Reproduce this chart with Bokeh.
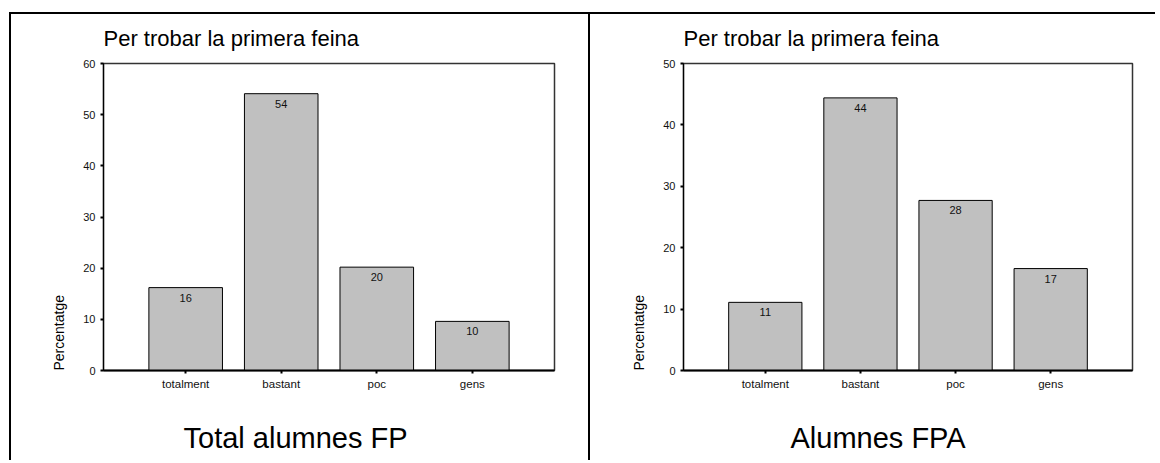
from bokeh.plotting import figure
from bokeh.models import FactorRange, Range1d, FixedTicker, Title, ColumnDataSource
from bokeh.layouts import row
from bokeh.embed import file_html
from bokeh.resources import INLINE
from bokeh.core.properties import value

categories = ["totalment", "bastant", "poc", "gens"]
fp_values = [16.2, 54.1, 20.2, 9.6]
fpa_values = [11.1, 44.4, 27.7, 16.6]
fp_yticks = [0, 10, 20, 30, 40, 50, 60]
fpa_yticks = [0, 10, 20, 30, 40, 50]
title_text = "Per trobar la primera feina"
y_label = "Percentatge"
fp_caption = "Total alumnes FP"
fpa_caption = "Alumnes FPA"

FONT = "Liberation Sans"
H = 448
TOP = 49
FRAME_H = 307


def make_panel(vals, yticks, caption, width, left, frame_w, margin, cap_offset):
    right = width - left - frame_w
    bottom = H - TOP - FRAME_H
    p = figure(x_range=FactorRange(factors=categories, range_padding=0.18),
               y_range=Range1d(yticks[0], yticks[-1]),
               width=width, height=H,
               min_border_left=left, min_border_right=right,
               min_border_top=TOP, min_border_bottom=bottom,
               output_backend="svg", toolbar_location=None, tools="",
               title=title_text)
    p.margin = margin
    p.styles = {"border-top": "2px solid black", "border-left": "2px solid black"}
    p.xgrid.visible = False
    p.ygrid.visible = False
    p.outline_line_color = "#333333"
    p.outline_line_width = 1.5
    p.background_fill_color = "white"
    p.border_fill_color = "white"

    p.title.align = "left"
    p.title.vertical_align = "top"
    p.title.standoff = 22
    p.title.text_font = FONT
    p.title.text_font_size = "22px"
    p.title.text_font_style = "normal"
    p.title.text_color = "black"

    src = ColumnDataSource(dict(cat=categories, val=vals,
                                lab=[f"{v:.0f}" for v in vals]))
    p.vbar(x="cat", top="val", width=0.77, bottom=0, source=src,
           fill_color="#c0c0c0", line_color="black", line_width=1)
    p.text(x="cat", y="val", text="lab", source=src, text_align="center",
           text_baseline="top", y_offset=6, text_font=value(FONT),
           text_font_size="11px", text_color="#111111")

    ya = p.yaxis[0]
    ya.ticker = FixedTicker(ticks=yticks)
    ya.minor_tick_line_color = None
    ya.major_tick_in = 0
    ya.major_tick_out = 3
    ya.major_tick_line_width = 2
    ya.axis_line_width = 1.2
    ya.major_label_standoff = 5
    ya.major_label_text_font = FONT
    ya.major_label_text_font_size = "11px"
    ya.major_label_text_color = "#111111"

    xa = p.xaxis[0]
    xa.major_tick_in = 0
    xa.major_tick_out = 3
    xa.major_tick_line_width = 2
    xa.axis_line_width = 2
    xa.major_label_standoff = 4
    xa.major_label_text_font = FONT
    xa.major_label_text_font_size = "11.5px"
    xa.major_label_text_color = "#111111"

    p.add_layout(Title(text=y_label, align="left", vertical_align="bottom",
                       standoff=27, text_font=FONT, text_font_size="14px",
                       text_font_style="normal", text_color="black"), "left")
    p.add_layout(Title(text=" ", align="left", vertical_align="top",
                       standoff=25, text_font=FONT, text_font_size="2px",
                       text_font_style="normal"), "below")
    p.add_layout(Title(text=caption, align="left", vertical_align="top",
                       standoff=0, offset=cap_offset, text_font=FONT,
                       text_font_size="29px", text_font_style="normal",
                       text_color="black"), "below")
    return p


p1 = make_panel(fp_values, fp_yticks, fp_caption, 579, 92, 451, (12, 0, 0, 9), 80)
p2 = make_panel(fpa_values, fpa_yticks, fpa_caption, 567, 93, 449, (12, 0, 0, 0), 107)

layout = row(p1, p2, spacing=0)
open("out.html", "w").write(file_html(layout, INLINE))
